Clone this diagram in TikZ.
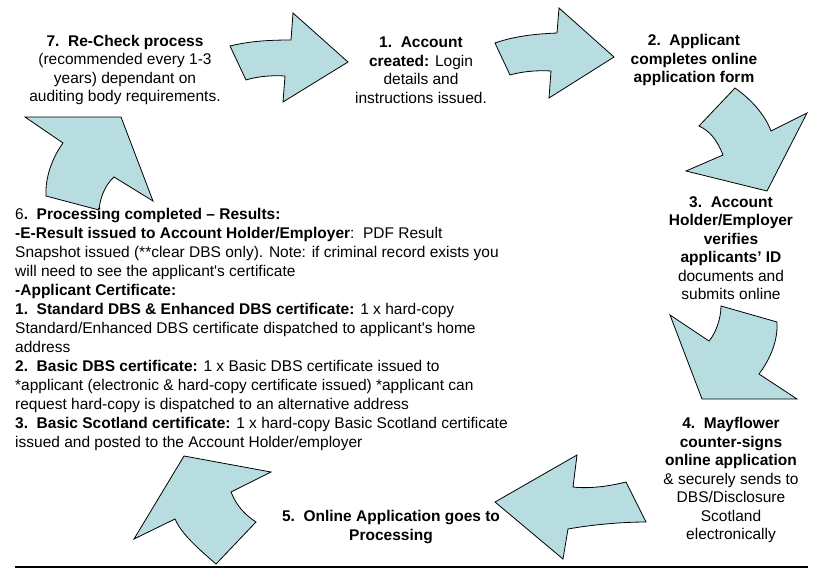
\documentclass[tikz,border=0pt]{standalone}
\usepackage{fontspec}
\setmainfont{Liberation Sans}
\definecolor{arrowfill}{RGB}{183,221,224}
\tikzset{
  blockarrow/.style={draw=black, line width=0.8pt, fill=arrowfill, line join=miter},
  steptext/.style={align=center, inner sep=0pt, font=\fontsize{15.5}{18.5}\selectfont},
  resulttext/.style={align=left, inner sep=0pt, anchor=north west, font=\fontsize{15.5}{19}\selectfont}
}
\begin{document}
\begin{tikzpicture}[x=1pt,y=-1pt]
\useasboundingbox (0,0) rectangle (820,579);
\draw[blockarrow] (230,46) .. controls (250,41) and (270,40) .. (291,40) -- (293,13) -- (348,62) -- (283,102) -- (285,76) .. controls (270,75) and (255,77) .. (246,80) -- cycle;
\draw[blockarrow] (495,43) .. controls (515,36) and (535,34) .. (557,33) -- (559,8) -- (614,57) -- (549,98) -- (551,71) .. controls (535,70) and (520,72) .. (510,75) -- cycle;
\draw[blockarrow] (735,88) .. controls (752,100) and (765,115) .. (771,131) -- (807,113) -- (767,191) -- (686,171) -- (723,155) .. controls (717,140) and (710,131) .. (699,126) -- cycle;
\draw[blockarrow] (670,315) -- (709,341) .. controls (716,333) and (721,318) .. (721,306) -- (777,322) .. controls (778,340) and (771,358) .. (759,374) -- (797,399) -- (702,399) -- cycle;
\draw[blockarrow] (495,502) -- (577,455) -- (573,487) .. controls (590,489) and (610,486) .. (626,482) -- (646,522) .. controls (620,522) and (590,525) .. (568,529) -- (563,559) -- cycle;
\draw[blockarrow] (184,456) -- (271,472) -- (231,492) .. controls (236,505) and (245,515) .. (256,522) -- (216,564) .. controls (200,550) and (182,535) .. (175,519) -- (134,539) -- cycle;
\draw[blockarrow] (25,117) -- (121,117) -- (153,201) -- (114,177) .. controls (105,185) and (100,198) .. (99,210) -- (46,196) .. controls (45,178) and (52,158) .. (63,143) -- cycle;
\node[steptext] (recheck) at (125,70) {\textbf{7.\ \ Re-Check process}\\(recommended every 1-3\\years) dependant on\\auditing body requirements.};
\node[steptext] (account) at (421,70) {\textbf{1.\ \ Account}\\\textbf{created:} Login\\details and\\instructions issued.};
\node[steptext] (applicant) at (694,60) {\textbf{2.\ \ Applicant}\\\textbf{completes online}\\\textbf{application form}};
\node[steptext] (verify) at (731,248) {\textbf{3.\ \ Account}\\\textbf{Holder/Employer}\\\textbf{verifies}\\\textbf{applicants’ ID}\\documents and\\submits online};
\node[steptext] (mayflower) at (731,480) {\textbf{4.\ \ Mayflower}\\\textbf{counter-signs}\\\textbf{online application}\\\& securely sends to\\DBS/Disclosure\\Scotland\\electronically};
\node[steptext] (processing) at (391,527) {\textbf{5.\ \ Online Application goes to}\\\textbf{Processing}};
\node[resulttext] (results) at (15,208) {6\textbf{.\ \ Processing completed -- Results:}\\
\textbf{-E-Result issued to Account Holder/Employer}:\ \ PDF Result\\
Snapshot issued (**clear DBS only). Note: if criminal record exists you\\
will need to see the applicant\textquotesingle s certificate\\
\textbf{-Applicant Certificate:}\\
\textbf{1.\ \ Standard DBS \& Enhanced DBS certificate:} 1 x hard-copy\\
Standard/Enhanced DBS certificate dispatched to applicant\textquotesingle s home\\
address\\
\textbf{2.\ \ Basic DBS certificate:} 1 x Basic DBS certificate issued to\\
*applicant (electronic \& hard-copy certificate issued) *applicant can\\
request hard-copy is dispatched to an alternative address\\
\textbf{3.\ \ Basic Scotland certificate:} 1 x hard-copy Basic Scotland certificate\\
issued and posted to the Account Holder/employer};
\draw[line width=1.2pt] (15,567) -- (808,567);
\end{tikzpicture}
\end{document}
